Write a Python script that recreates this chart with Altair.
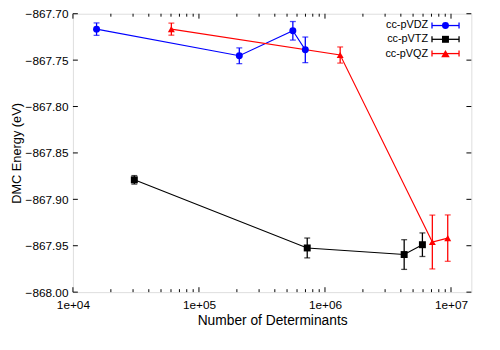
import altair as alt
import pandas as pd

# ---- data ----
series_names = ["cc-pVDZ", "cc-pVTZ", "cc-pVQZ"]
series_colors = ["#0000ff", "#000000", "#ff0000"]
series_shapes = ["circle", "square", "triangle-up"]
series_sizes = [50, 50, 75]

dz_n = [1.54e4, 2.09e5, 5.56e5, 6.98e5]
dz_e = [-867.7166, -867.7453, -867.7184, -867.7389]
dz_err = [0.0067, 0.0085, 0.010, 0.0138]

tz_n = [3.07e4, 7.23e5, 4.25e6, 5.93e6]
tz_e = [-867.879, -867.9524, -867.9595, -867.9489]
tz_err = [0.0046, 0.0107, 0.016, 0.0127]

qz_n = [6.04e4, 1.32e6, 7.11e6, 9.42e6]
qz_e = [-867.7166, -867.7445, -867.946, -867.9418]
qz_err = [0.0065, 0.0087, 0.029, 0.025]

x_major = [1e4, 1e5, 1e6, 1e7]
x_minor = [m * d for d in [1e4, 1e5, 1e6] for m in range(2, 10)]
y_major = [-868.00, -867.95, -867.90, -867.85, -867.80, -867.75, -867.70]

x_domain = [1e4, 1.45e7]
y_domain = [-868.0, -867.7]

W, H = 405, 283
FONT = "Liberation Sans"

rows = []
for name, ns, es, errs in [(series_names[0], dz_n, dz_e, dz_err),
                           (series_names[1], tz_n, tz_e, tz_err),
                           (series_names[2], qz_n, qz_e, qz_err)]:
    for i, (n, e, r) in enumerate(zip(ns, es, errs)):
        rows.append({"series": name, "n": n, "e": e, "lo": e - r, "hi": e + r, "idx": i})
df = pd.DataFrame(rows)

xs = alt.Scale(type="log", domain=x_domain, nice=False)
ys = alt.Scale(domain=y_domain, nice=False, zero=False)
cs = alt.Scale(domain=series_names, range=series_colors)
ss = alt.Scale(domain=series_names, range=series_shapes)
zs = alt.Scale(domain=series_names, range=series_sizes)

base = alt.Chart(df)

x_enc = alt.X("n:Q", scale=xs,
              axis=alt.Axis(values=x_major, ticks=False, domain=False, grid=False,
                            labelExpr="'1e+0' + round(log(datum.value)/LN10)",
                            labelFont=FONT, labelFontSize=12, labelColor="black",
                            labelPadding=8, labelFlush=False,
                            title="Number of Determinants", titleFont=FONT,
                            titleFontSize=14, titleFontWeight="normal",
                            titleColor="black", titlePadding=3))
y_enc = alt.Y("e:Q", scale=ys,
              axis=alt.Axis(values=y_major, ticks=False, domain=False, grid=False,
                            format=".2f", labelFont=FONT, labelFontSize=12,
                            labelColor="black", labelPadding=5,
                            title="DMC Energy (eV)", titleFont=FONT,
                            titleFontSize=13, titleFontWeight="normal",
                            titleColor="black", titlePadding=2))

lines = base.mark_line(strokeWidth=1.1).encode(
    x=x_enc, y=y_enc,
    color=alt.Color("series:N", scale=cs, legend=None),
    detail="series:N", order="idx:Q")

err_v = base.mark_rule(strokeWidth=1.3).encode(
    x=alt.X("n:Q", scale=xs), y=alt.Y("lo:Q", scale=ys), y2="hi:Q",
    color=alt.Color("series:N", scale=cs, legend=None))
cap_lo = base.mark_tick(orient="horizontal", size=6, thickness=1.3).encode(
    x=alt.X("n:Q", scale=xs), y=alt.Y("lo:Q", scale=ys),
    color=alt.Color("series:N", scale=cs, legend=None))
cap_hi = base.mark_tick(orient="horizontal", size=6, thickness=1.3).encode(
    x=alt.X("n:Q", scale=xs), y=alt.Y("hi:Q", scale=ys),
    color=alt.Color("series:N", scale=cs, legend=None))

pts = base.mark_point(filled=True, opacity=1).encode(
    x=alt.X("n:Q", scale=xs), y=alt.Y("e:Q", scale=ys),
    color=alt.Color("series:N", scale=cs, legend=None),
    shape=alt.Shape("series:N", scale=ss, legend=None),
    size=alt.Size("series:N", scale=zs, legend=None))

# ---- inward tick marks (gnuplot style, mirrored) ----
xt_major = pd.DataFrame({"v": x_major})
xt_minor = pd.DataFrame({"v": x_minor})
yt_major = pd.DataFrame({"v": y_major})

def xticks(d, length):
    b = alt.Chart(d).mark_rule(color="black", strokeWidth=1)
    return (b.encode(x=alt.X("v:Q", scale=xs), y=alt.value(H), y2=alt.value(H - length)) +
            b.encode(x=alt.X("v:Q", scale=xs), y=alt.value(0), y2=alt.value(length)))

def yticks(d, length):
    b = alt.Chart(d).mark_rule(color="black", strokeWidth=1)
    return (b.encode(y=alt.Y("v:Q", scale=ys), x=alt.value(0), x2=alt.value(length)) +
            b.encode(y=alt.Y("v:Q", scale=ys), x=alt.value(W), x2=alt.value(W - length)))

ticks = xticks(xt_major, 5) + xticks(xt_minor, 3) + yticks(yt_major, 5)

# ---- in-plot legend (top right, gnuplot style) ----
leg_layers = []
row_y = [12, 26, 40.5]
for name, col, shp, sz, ry in zip(series_names, series_colors, series_shapes,
                                  series_sizes, row_y):
    one = alt.Chart(pd.DataFrame({"label": [name]}))
    leg_layers.append(one.mark_text(align="right", baseline="middle", font=FONT,
                                    fontSize=11, color="black").encode(
        text="label:N", x=alt.value(361), y=alt.value(ry)))
    leg_layers.append(one.mark_rule(color=col, strokeWidth=1.3).encode(
        x=alt.value(365), x2=alt.value(392.5), y=alt.value(ry)))
    leg_layers.append(one.mark_rule(color=col, strokeWidth=1.3).encode(
        x=alt.value(365), y=alt.value(ry - 3), y2=alt.value(ry + 3)))
    leg_layers.append(one.mark_rule(color=col, strokeWidth=1.3).encode(
        x=alt.value(392.5), y=alt.value(ry - 3), y2=alt.value(ry + 3)))
    leg_layers.append(one.mark_point(filled=True, opacity=1, size=sz, color=col,
                                     shape=shp).encode(
        x=alt.value(378.7), y=alt.value(ry)))

chart = alt.layer(lines, err_v, cap_lo, cap_hi, pts, ticks, *leg_layers).properties(
    width=W, height=H,
    autosize=alt.AutoSizeParams(type="none"),
    padding={"left": 66, "top": 3, "right": 21, "bottom": 56},
).configure_view(stroke="black", strokeWidth=1).configure(background="white")

chart.save("out.html", embed_options={"renderer": "svg", "actions": False})
